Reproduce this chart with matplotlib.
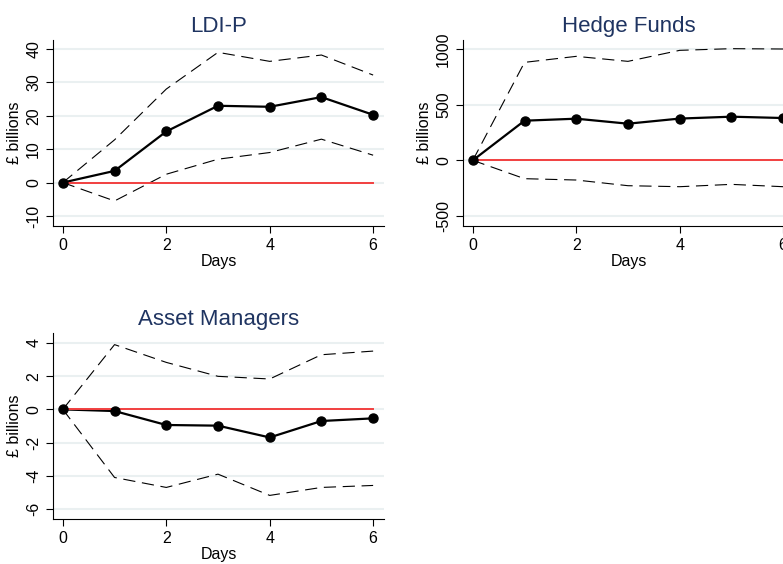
import numpy as np
import matplotlib
matplotlib.use('Agg')
import matplotlib.pyplot as plt

plt.rcParams['font.family'] = ['Liberation Sans', 'DejaVu Sans']
plt.rcParams['axes.unicode_minus'] = False

days = [0, 1, 2, 3, 4, 5, 6]

# LDI-P
ldi_mean = [0, 3.5, 15.3, 23.0, 22.7, 25.6, 20.3]
ldi_upper = [0, 12.8, 28.0, 39.0, 36.3, 38.2, 32.2]
ldi_lower = [0, -5.5, 2.5, 7.0, 9.0, 13.0, 8.2]

# Hedge Funds
hf_mean = [0, 356, 374, 329, 375, 392, 380]
hf_upper = [0, 880, 934, 889, 988, 1003, 1000]
hf_lower = [0, -165, -177, -228, -237, -216, -237]

# Asset Managers
am_mean = [0, -0.1, -0.94, -0.98, -1.69, -0.7, -0.54]
am_upper = [0, 3.9, 2.83, 1.99, 1.83, 3.29, 3.51]
am_lower = [0, -4.1, -4.7, -3.9, -5.18, -4.7, -4.58]

title_col = '#1f3461'
grid_col = '#eaf0f1'
red = '#f24040'

fig = plt.figure(figsize=(7.83, 5.64), dpi=100)

panels = [
    ('LDI-P', ldi_mean, ldi_upper, ldi_lower, [-10, 0, 10, 20, 30, 40], (-13, 42.7),
     [0.0677, 0.5993, 0.4227, 0.3298]),
    ('Hedge Funds', hf_mean, hf_upper, hf_lower, [-500, 0, 500, 1000], (-590, 1081),
     [0.5913, 0.5993, 0.4227, 0.3298]),
    ('Asset Managers', am_mean, am_upper, am_lower, [-6, -4, -2, 0, 2, 4], (-6.6, 4.6),
     [0.0677, 0.0798, 0.4227, 0.3298]),
]

for title, mean, upper, lower, yticks, ylim, pos in panels:
    ax = fig.add_axes(pos)
    ax.set_yticks(yticks)
    ax.set_ylim(ylim)
    ax.set_xlim(-0.19, 6.21)
    ax.set_xticks([0, 2, 4, 6])
    ax.grid(axis='y', color=grid_col, lw=1.5)
    ax.set_axisbelow(True)

    ax.plot(days, upper, color='black', lw=0.8, dashes=(11, 6))
    ax.plot(days, lower, color='black', lw=0.8, dashes=(11, 6))
    ax.plot(days, mean, color='black', lw=1.6)
    ax.plot([days[0], days[-1]], [0, 0], color=red, lw=1.4)
    ax.plot(days, mean, 'o', color='black', ms=6.5)

    ax.set_title(title, color=title_col, fontsize=16, pad=6)
    ax.set_xlabel('Days', fontsize=11.5, labelpad=1)
    ax.set_ylabel('£ billions', fontsize=11.5, labelpad=3)
    ax.tick_params(labelsize=11.5, length=5, width=0.8)
    for lab in ax.get_yticklabels():
        lab.set_rotation(90)
        lab.set_va('center')
    for s in ['top', 'right']:
        ax.spines[s].set_visible(False)

fig.savefig('out.png', dpi=100)
